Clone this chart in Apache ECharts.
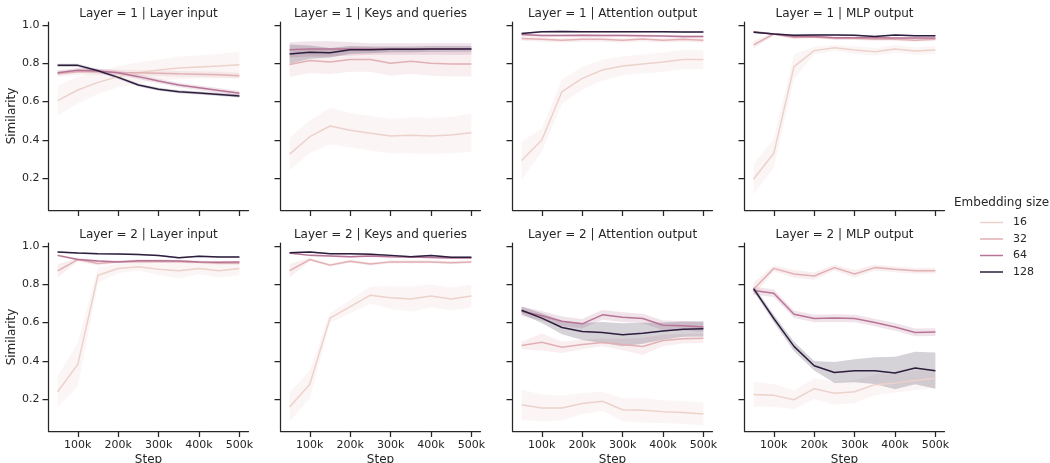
<!DOCTYPE html>
<html>
<head>
<meta charset="utf-8">
<script src="https://cdn.jsdelivr.net/npm/echarts@6/dist/echarts.min.js"></script>
<style>html,body{margin:0;padding:0;background:#fff}#c{width:1050px;height:463px}</style>
</head>
<body>
<div id="c"></div>
<script>
// ---------- data ----------
const steps = [50000,100000,150000,200000,250000,300000,350000,400000,450000,500000];
const sizes = ['16','32','64','128'];
const xTicks = [100000,200000,300000,400000,500000];
const yTicks = [0.2,0.4,0.6,0.8,1.0];
const panelTitles = [
  'Layer = 1 | Layer input','Layer = 1 | Keys and queries','Layer = 1 | Attention output','Layer = 1 | MLP output',
  'Layer = 2 | Layer input','Layer = 2 | Keys and queries','Layer = 2 | Attention output','Layer = 2 | MLP output'
];

// mean per embedding size [16, 32, 64, 128]; ci = half-width of shaded band
const mean_L1_input = [
  [0.605,0.66,0.70,0.73,0.75,0.765,0.775,0.78,0.785,0.792],
  [0.745,0.755,0.755,0.752,0.75,0.748,0.745,0.743,0.74,0.735],
  [0.75,0.763,0.76,0.75,0.73,0.707,0.686,0.672,0.657,0.643],
  [0.789,0.789,0.761,0.726,0.686,0.664,0.651,0.644,0.637,0.629]];
const ci_L1_input = [
  [0.078,0.07,0.06,0.055,0.055,0.055,0.06,0.06,0.065,0.07],
  [0.015,0.015,0.015,0.015,0.015,0.015,0.015,0.015,0.015,0.015],
  [0.012,0.012,0.012,0.012,0.012,0.012,0.012,0.012,0.012,0.012],
  [0.008,0.008,0.008,0.008,0.008,0.008,0.008,0.008,0.008,0.008]];

const mean_L1_kq = [
  [0.325,0.416,0.472,0.45,0.434,0.42,0.423,0.42,0.425,0.437],
  [0.793,0.814,0.807,0.82,0.82,0.80,0.81,0.80,0.796,0.796],
  [0.87,0.875,0.875,0.875,0.875,0.875,0.875,0.875,0.875,0.875],
  [0.848,0.858,0.855,0.87,0.87,0.873,0.873,0.875,0.875,0.875]];
const ci_L1_kq = [
  [0.085,0.085,0.095,0.09,0.09,0.09,0.095,0.095,0.095,0.1],
  [0.065,0.065,0.065,0.065,0.065,0.065,0.065,0.065,0.065,0.065],
  [0.04,0.04,0.04,0.035,0.03,0.03,0.03,0.03,0.03,0.03],
  [0.05,0.035,0.025,0.02,0.018,0.015,0.015,0.015,0.015,0.015]];

const mean_L1_attn = [
  [0.291,0.399,0.652,0.721,0.765,0.786,0.796,0.806,0.819,0.819],
  [0.93,0.925,0.92,0.925,0.925,0.92,0.927,0.92,0.925,0.92],
  [0.95,0.945,0.945,0.946,0.945,0.945,0.944,0.942,0.94,0.94],
  [0.956,0.965,0.966,0.965,0.965,0.965,0.965,0.965,0.964,0.964]];
const ci_L1_attn = [
  [0.1,0.06,0.065,0.06,0.055,0.05,0.05,0.05,0.05,0.05],
  [0.012,0.012,0.012,0.012,0.012,0.012,0.012,0.012,0.012,0.012],
  [0.006,0.006,0.006,0.006,0.006,0.006,0.006,0.006,0.006,0.006],
  [0.004,0.004,0.004,0.004,0.004,0.004,0.004,0.004,0.004,0.004]];

const mean_L1_mlp = [
  [0.195,0.329,0.782,0.866,0.881,0.869,0.86,0.875,0.864,0.869],
  [0.896,0.953,0.934,0.937,0.929,0.929,0.925,0.925,0.92,0.925],
  [0.965,0.953,0.94,0.94,0.934,0.934,0.934,0.932,0.932,0.932],
  [0.962,0.953,0.946,0.948,0.948,0.946,0.94,0.948,0.944,0.944]];
const ci_L1_mlp = [
  [0.08,0.075,0.065,0.02,0.015,0.02,0.02,0.02,0.02,0.02],
  [0.02,0.006,0.008,0.008,0.008,0.008,0.008,0.008,0.008,0.008],
  [0.005,0.005,0.005,0.005,0.005,0.005,0.005,0.005,0.005,0.005],
  [0.004,0.004,0.004,0.004,0.004,0.004,0.004,0.004,0.004,0.004]];

const mean_L2_input = [
  [0.238,0.381,0.847,0.882,0.892,0.878,0.87,0.882,0.87,0.882],
  [0.87,0.929,0.908,0.918,0.918,0.918,0.918,0.915,0.91,0.91],
  [0.951,0.93,0.922,0.917,0.923,0.923,0.922,0.917,0.915,0.917],
  [0.969,0.963,0.96,0.958,0.955,0.95,0.939,0.946,0.943,0.943]];
const ci_L2_input = [
  [0.08,0.115,0.04,0.025,0.02,0.03,0.04,0.03,0.035,0.035],
  [0.035,0.01,0.01,0.008,0.008,0.008,0.008,0.008,0.008,0.008],
  [0.006,0.006,0.006,0.006,0.006,0.006,0.006,0.006,0.006,0.006],
  [0.004,0.004,0.004,0.004,0.004,0.004,0.004,0.004,0.004,0.004]];

const mean_L2_kq = [
  [0.158,0.277,0.623,0.683,0.743,0.73,0.723,0.739,0.723,0.739],
  [0.871,0.929,0.9,0.92,0.906,0.917,0.917,0.917,0.913,0.917],
  [0.963,0.951,0.948,0.944,0.948,0.944,0.942,0.94,0.937,0.937],
  [0.965,0.969,0.96,0.96,0.957,0.951,0.944,0.95,0.941,0.941]];
const ci_L2_kq = [
  [0.075,0.075,0.025,0.035,0.045,0.06,0.065,0.06,0.06,0.06],
  [0.035,0.008,0.008,0.008,0.008,0.008,0.008,0.008,0.008,0.008],
  [0.005,0.005,0.005,0.005,0.005,0.005,0.005,0.005,0.005,0.005],
  [0.004,0.004,0.004,0.004,0.004,0.004,0.004,0.004,0.004,0.004]];

const mean_L2_attn = [
  [0.17,0.153,0.153,0.176,0.188,0.144,0.141,0.134,0.129,0.122],
  [0.48,0.497,0.471,0.485,0.496,0.485,0.475,0.506,0.515,0.518],
  [0.659,0.635,0.607,0.593,0.64,0.628,0.621,0.586,0.583,0.576],
  [0.664,0.623,0.574,0.553,0.548,0.536,0.544,0.555,0.565,0.567]];
const ci_L2_attn = [
  [0.08,0.07,0.065,0.055,0.05,0.06,0.065,0.06,0.06,0.06],
  [0.02,0.045,0.03,0.025,0.02,0.03,0.045,0.03,0.025,0.025],
  [0.025,0.025,0.025,0.025,0.025,0.025,0.025,0.025,0.025,0.025],
  [0.02,0.025,0.035,0.045,0.055,0.06,0.055,0.045,0.04,0.04]];

const mean_L2_mlp = [
  [0.224,0.219,0.196,0.254,0.23,0.238,0.275,0.283,0.297,0.308],
  [0.774,0.883,0.854,0.843,0.887,0.854,0.887,0.878,0.87,0.871],
  [0.767,0.753,0.643,0.621,0.623,0.621,0.6,0.577,0.548,0.55],
  [0.777,0.621,0.475,0.374,0.339,0.348,0.348,0.336,0.362,0.348]];
const ci_L2_mlp = [
  [0.065,0.06,0.05,0.055,0.06,0.06,0.055,0.05,0.05,0.05],
  [0.035,0.015,0.02,0.02,0.015,0.02,0.015,0.015,0.015,0.015],
  [0.02,0.02,0.02,0.02,0.02,0.02,0.02,0.02,0.02,0.02],
  [0.015,0.02,0.025,0.025,0.055,0.06,0.07,0.085,0.085,0.095]];

// ---------- build ----------
const panelMeans = [mean_L1_input,mean_L1_kq,mean_L1_attn,mean_L1_mlp,mean_L2_input,mean_L2_kq,mean_L2_attn,mean_L2_mlp];
const panelCis = [ci_L1_input,ci_L1_kq,ci_L1_attn,ci_L1_mlp,ci_L2_input,ci_L2_kq,ci_L2_attn,ci_L2_mlp];
const colors = ['#edd1cb','#e1b0b4','#b87496','#2d1e3e'];
const bandColors = ['rgba(237,209,203,0.2)','rgba(225,176,180,0.2)','rgba(184,116,150,0.2)','rgba(45,30,62,0.2)'];
const ink = '#262626';
const FONT = 'DejaVu Sans';
const colLeft = [48.5, 280.5, 512.5, 744.5];
const rowTop = [22, 243];
const W = 200, H = 188;

const grids = [], xAxes = [], yAxes = [], series = [], graphics = [];
for (let p = 0; p < 8; p++) {
  const r = Math.floor(p / 4), c = p % 4;
  grids.push({left: colLeft[c], top: rowTop[r], width: W, height: H, containLabel: false, outerBoundsMode: 'none'});
  xAxes.push({
    type: 'value', gridIndex: p, min: 27500, max: 522500,
    splitLine: {show: false},
    axisLine: {show: true, onZero: false, lineStyle: {color: ink, width: 1.25}},
    axisTick: {show: true, length: 6, lineStyle: {color: ink, width: 1.25}, customValues: xTicks},
    axisLabel: {show: r === 1, customValues: xTicks, color: ink, fontSize: 11, fontFamily: FONT, margin: 9,
      formatter: v => Math.round(v / 1000) + 'k'},
    name: r === 1 ? 'Step' : '', nameLocation: 'middle', nameGap: 23,
    nameTextStyle: {color: ink, fontSize: 12, fontFamily: FONT}
  });
  yAxes.push({
    type: 'value', gridIndex: p, min: 0.0327, max: 1.0157,
    splitLine: {show: false},
    axisLine: {show: true, onZero: false, lineStyle: {color: ink, width: 1.25}},
    axisTick: {show: true, length: 6, lineStyle: {color: ink, width: 1.25}, customValues: yTicks},
    axisLabel: {show: c === 0, customValues: yTicks, color: ink, fontSize: 11, fontFamily: FONT, margin: 9,
      formatter: v => v.toFixed(1)},
    name: c === 0 ? 'Similarity' : '', nameLocation: 'middle', nameGap: 28,
    nameTextStyle: {color: ink, fontSize: 12, fontFamily: FONT}
  });
  const means = panelMeans[p], cis = panelCis[p];
  for (let h = 0; h < 4; h++) {
    const m = means[h], ci = cis[h];
    const lo = m.map((v, i) => v - ci[i]);
    const hi = m.map((v, i) => v + ci[i]);
    series.push({
      type: 'custom', xAxisIndex: p, yAxisIndex: p, silent: true, clip: true,
      data: [[steps[0], m[0]]],
      renderItem: (params, api) => {
        const pts = [];
        for (let i = 0; i < steps.length; i++) pts.push(api.coord([steps[i], hi[i]]));
        for (let i = steps.length - 1; i >= 0; i--) pts.push(api.coord([steps[i], lo[i]]));
        return {type: 'polygon', shape: {points: pts}, style: {fill: bandColors[h], stroke: null}};
      }
    });
    series.push({
      type: 'line', name: sizes[h], xAxisIndex: p, yAxisIndex: p,
      data: steps.map((s, i) => [s, m[i]]),
      symbol: 'none', smooth: false, silent: true,
      lineStyle: {color: colors[h], width: 1.5}, itemStyle: {color: colors[h]}
    });
  }
  graphics.push({
    type: 'text', x: colLeft[c] + W / 2, y: rowTop[r] - 8,
    style: {text: panelTitles[p], fill: ink, font: '12px "' + FONT + '"', textAlign: 'center', textVerticalAlign: 'middle'}
  });
}
graphics.push({
  type: 'text', x: 954, y: 203,
  style: {text: 'Embedding size', fill: ink, font: '12px "' + FONT + '"', textAlign: 'left', textVerticalAlign: 'middle'}
});

const chart = echarts.init(document.getElementById('c'), null, {renderer: 'canvas'});
chart.setOption({
  backgroundColor: '#ffffff',
  animation: false,
  textStyle: {fontFamily: FONT},
  grid: grids, xAxis: xAxes, yAxis: yAxes, series: series, graphic: graphics,
  legend: {
    data: sizes.map((s, i) => ({name: s, icon: 'rect', itemStyle: {color: colors[i]}})),
    orient: 'vertical', left: 975, top: 212,
    itemWidth: 23, itemHeight: 1.5, itemGap: 5.5, selectedMode: false,
    textStyle: {color: ink, fontSize: 11, fontFamily: FONT, padding: [0, 0, 0, 5]}
  }
});
</script>
</body>
</html>
